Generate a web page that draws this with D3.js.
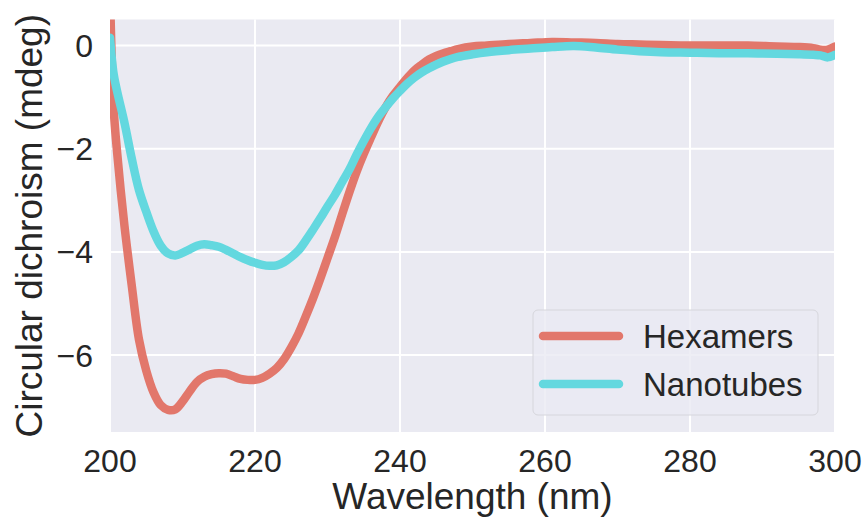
<!DOCTYPE html>
<meta charset="utf-8">
<style>

body {
  margin: 0;
  background: #fff;
}

text {
  font-family: "Liberation Sans", Arial, sans-serif;
  fill: #262626;
}

.grid line {
  stroke: #fff;
  stroke-width: 2px;
}

.series {
  fill: none;
  stroke-width: 8.5px;
  stroke-linejoin: round;
  stroke-linecap: round;
}

</style>
<body>
<script src="https://cdn.jsdelivr.net/npm/d3@7"></script>
<script>

var w = 863,
    h = 517,
    margin = {top: 19.5, right: 28, bottom: 85, left: 110};

// wavelength (nm) and CD signal (mdeg)
var hexWl = [200, 200.5, 201, 202, 203, 204, 205, 206, 207, 208, 209, 210, 211, 212, 213, 214, 215,
  216, 217, 218, 219, 220, 221, 222, 223, 224, 225, 226, 227, 228, 229, 230, 231, 232, 233, 234,
  235, 236, 237, 238, 239, 240, 241, 242, 243, 244, 245, 246, 247, 248, 250, 252, 255, 258, 261,
  264, 267, 270, 273, 276, 280, 284, 288, 292, 295, 297, 298, 299, 300];
var hexVal = [1.0, -1.2, -2.1, -3.5, -4.65, -5.7, -6.3, -6.72, -6.97, -7.06, -7.05, -6.9, -6.7,
  -6.52, -6.42, -6.37, -6.35, -6.36, -6.41, -6.46, -6.48, -6.48, -6.44, -6.36, -6.25, -6.08, -5.85,
  -5.58, -5.25, -4.9, -4.52, -4.12, -3.72, -3.28, -2.85, -2.45, -2.1, -1.78, -1.47, -1.2, -0.98,
  -0.8, -0.63, -0.48, -0.37, -0.27, -0.2, -0.15, -0.11, -0.07, -0.02, 0.0, 0.03, 0.05, 0.07, 0.06,
  0.05, 0.03, 0.02, 0.01, 0.0, 0.0, 0.0, -0.02, -0.03, -0.05, -0.08, -0.08, -0.02];

var tubeWl = hexWl;
var tubeVal = [0.15, -0.55, -0.9, -1.5, -2.19, -2.8, -3.22, -3.6, -3.88, -4.03, -4.07, -4.02,
  -3.95, -3.88, -3.85, -3.87, -3.9, -3.96, -4.03, -4.1, -4.16, -4.21, -4.25, -4.27, -4.26, -4.2,
  -4.1, -3.97, -3.78, -3.57, -3.35, -3.12, -2.9, -2.65, -2.41, -2.12, -1.85, -1.6, -1.38, -1.2,
  -1.03, -0.88, -0.74, -0.62, -0.52, -0.44, -0.37, -0.31, -0.26, -0.22, -0.17, -0.13, -0.09, -0.06,
  -0.03, -0.01, -0.04, -0.08, -0.11, -0.13, -0.14, -0.15, -0.15, -0.16, -0.17, -0.18, -0.19, -0.23,
  -0.18];

var seriesNames = ["Hexamers", "Nanotubes"],
    seriesColors = ["#e2776b", "#63d8df"];

var xTicks = [200, 220, 240, 260, 280, 300],
    yTicks = [0, -2, -4, -6];

var x = d3.scaleLinear()
    .domain([200, 300])
    .range([margin.left, w - margin.right]);

var y = d3.scaleLinear()
    .domain([-7.49, 0.504])
    .range([h - margin.bottom, margin.top]);

var svg = d3.select("body").append("svg")
    .attr("width", w)
    .attr("height", h);

svg.append("clipPath")
    .attr("id", "clip")
  .append("rect")
    .attr("x", x.range()[0])
    .attr("y", y.range()[1])
    .attr("width", x.range()[1] - x.range()[0])
    .attr("height", y.range()[0] - y.range()[1]);

svg.append("rect")
    .attr("x", x.range()[0])
    .attr("y", y.range()[1])
    .attr("width", x.range()[1] - x.range()[0])
    .attr("height", y.range()[0] - y.range()[1])
    .attr("fill", "#eaeaf2");

var grid = svg.append("g").attr("class", "grid");

grid.selectAll(".gx")
    .data(xTicks)
  .enter().append("line")
    .attr("x1", x).attr("x2", x)
    .attr("y1", y.range()[0]).attr("y2", y.range()[1]);

grid.selectAll(".gy")
    .data(yTicks)
  .enter().append("line")
    .attr("x1", x.range()[0]).attr("x2", x.range()[1])
    .attr("y1", y).attr("y2", y);

var fmt = function(d) { return d < 0 ? "\u2212" + (-d) : d; };

svg.selectAll(".xt")
    .data(xTicks)
  .enter().append("text")
    .attr("x", x)
    .attr("y", y.range()[0] + 40)
    .attr("text-anchor", "middle")
    .style("font-size", "32px")
    .text(String);

svg.selectAll(".yt")
    .data(yTicks)
  .enter().append("text")
    .attr("x", x.range()[0] - 17)
    .attr("y", y)
    .attr("dy", "0.36em")
    .attr("text-anchor", "end")
    .style("font-size", "32px")
    .text(fmt);

svg.append("text")
    .attr("x", (x.range()[0] + x.range()[1]) / 2)
    .attr("y", 509)
    .attr("text-anchor", "middle")
    .style("font-size", "37px")
    .text("Wavelength (nm)");

svg.append("text")
    .attr("transform", "translate(42," + (y.range()[0] + y.range()[1]) / 2 + ")rotate(-90)")
    .attr("text-anchor", "middle")
    .style("font-size", "37px")
    .text("Circular dichroism (mdeg)");

var line = d3.line()
    .x(function(d) { return x(d[0]); })
    .y(function(d) { return y(d[1]); })
    .curve(d3.curveCatmullRom);

var series = [
  d3.zip(hexWl, hexVal),
  d3.zip(tubeWl, tubeVal)
];

svg.append("g")
    .attr("clip-path", "url(#clip)")
  .selectAll("path")
    .data(series)
  .enter().append("path")
    .attr("class", "series")
    .attr("stroke", function(d, i) { return seriesColors[i]; })
    .attr("d", line);

// legend
var legend = svg.append("g")
    .attr("transform", "translate(533,310)");

legend.append("rect")
    .attr("width", 285)
    .attr("height", 105)
    .attr("rx", 5)
    .attr("fill", "#eaeaf2")
    .attr("fill-opacity", 0.8)
    .attr("stroke", "#d6d6dc")
    .attr("stroke-width", 1);

var item = legend.selectAll(".item")
    .data(seriesNames)
  .enter().append("g")
    .attr("transform", function(d, i) { return "translate(0," + (26 + i * 48) + ")"; });

item.append("line")
    .attr("x1", 10).attr("x2", 86)
    .attr("stroke", function(d, i) { return seriesColors[i]; })
    .attr("stroke-width", 8.5)
    .attr("stroke-linecap", "round");

item.append("text")
    .attr("x", 110)
    .attr("dy", "0.36em")
    .style("font-size", "33px")
    .text(String);

</script>
</body>
